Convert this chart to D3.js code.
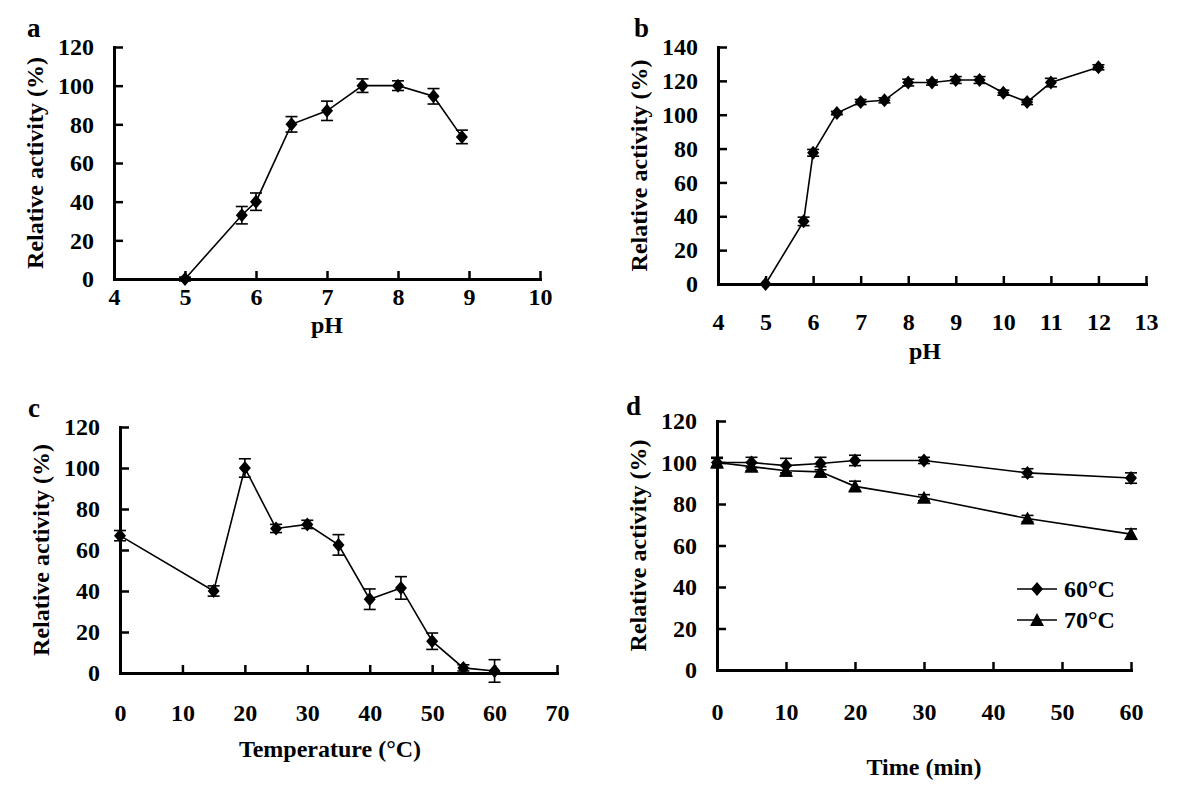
<!DOCTYPE html>
<html><head><meta charset="utf-8">
<script src="https://cdn.jsdelivr.net/npm/d3@7"></script>
<style>
body{margin:0;background:#fff}
svg text{font-family:"Liberation Serif","Times New Roman",serif;font-weight:bold;fill:#000}
</style>
</head><body><svg id="chart" width="1200" height="792"></svg>
<script>
// ---- data ----
const phA = [5, 5.8, 6, 6.5, 7, 7.5, 8, 8.5, 8.9];
const actA = [0, 33, 40, 80, 87, 100, 100, 94.5, 73.5];
const errA = [1, 4.5, 4.5, 4, 5, 3.5, 2.5, 4, 3.5];

const phB = [5, 5.8, 6, 6.5, 7, 7.5, 8, 8.5, 9, 9.5, 10, 10.5, 11, 12];
const actB = [0, 37, 77.5, 101, 107.5, 108.5, 119, 119, 120.5, 120.5, 113, 107.5, 119, 128];
const errB = [0, 2.5, 2, 1, 1.5, 1.5, 2, 1.5, 2, 2, 1.5, 1.5, 2.5, 1.5];

const tempC = [0, 15, 20, 25, 30, 35, 40, 45, 50, 55, 60];
const actC = [67, 40, 100, 70.5, 72.5, 62.5, 36, 41.5, 15.5, 2.5, 1];
const errC = [2.5, 2.5, 4.5, 2, 2, 5, 5, 5.5, 4, 1.5, 5.5];

const timeD = [0, 5, 10, 15, 20, 30, 45, 60];
const act60 = [100, 100, 98.5, 99.5, 101, 101, 95, 92.5];
const err60 = [2.5, 2.5, 3.5, 3, 2.5, 1.5, 2, 2.5];
const act70 = [100, 98, 96, 95.5, 88.5, 83, 73, 65.5];
const err70 = [2, 2, 2.5, 2.5, 2.5, 1.5, 1.5, 2.5];

const ticksXA = [4, 5, 6, 7, 8, 9, 10];
const ticksYA = [0, 20, 40, 60, 80, 100, 120];
const ticksXB = [4, 5, 6, 7, 8, 9, 10, 11, 12, 13];
const ticksYB = [0, 20, 40, 60, 80, 100, 120, 140];
const ticksXC = [0, 10, 20, 30, 40, 50, 60, 70];
const ticksYC = [0, 20, 40, 60, 80, 100, 120];
const ticksXD = [0, 10, 20, 30, 40, 50, 60];
const ticksYD = [0, 20, 40, 60, 80, 100, 120];

const legendLabels = ["60°C", "70°C"];
const yTitle = "Relative activity (%)";

// ---- drawing ----
const svg = d3.select("#chart");
const diamond = "M0,-7L6,0L0,7L-6,0Z";
const triangle = "M0,-7L7,6L-7,6Z";

function panel(cfg) {
  const x = d3.scaleLinear().domain(cfg.xd).range([cfg.px0, cfg.px1]);
  const y = d3.scaleLinear().domain(cfg.yd).range([cfg.py0, cfg.py1]);
  const g = svg.append("g");

  const gx = g.append("g").attr("transform", `translate(0,${cfg.py0})`)
    .call(d3.axisBottom(x).tickValues(cfg.xt).tickSizeInner(-8).tickSizeOuter(0).tickPadding(cfg.xpad).tickFormat(d3.format("d")));
  const gy = g.append("g").attr("transform", `translate(${cfg.px0},0)`)
    .call(d3.axisLeft(y).tickValues(cfg.yt).tickSizeInner(-9).tickSizeOuter(0).tickPadding(20).tickFormat(d3.format("d")));
  [gx, gy].forEach(a => {
    a.attr("font-family", null).attr("font-size", null);
    a.select(".domain").attr("stroke", "#000").attr("stroke-width", 3).attr("stroke-linecap", "square");
    a.selectAll(".tick line").attr("stroke", "#000").attr("stroke-width", 2.5);
    a.selectAll(".tick text").style("font-size", "24px").attr("fill", "#000");
  });

  cfg.series.forEach(s => {
    const pts = s.xs.map((v, i) => ({x: v, y: s.ys[i], e: s.es[i]}));
    g.append("path").datum(pts)
      .attr("fill", "none").attr("stroke", "#000").attr("stroke-width", 1.6)
      .attr("d", d3.line().x(d => x(d.x)).y(d => y(d.y)));
    const eb = g.append("g").attr("stroke", "#000").attr("stroke-width", 1.6);
    pts.filter(d => d.e > 0).forEach(d => {
      const cx = x(d.x), t = y(d.y + d.e), b = y(d.y - d.e);
      eb.append("line").attr("x1", cx).attr("x2", cx).attr("y1", t).attr("y2", b);
      eb.append("line").attr("x1", cx - 6).attr("x2", cx + 6).attr("y1", t).attr("y2", t);
      eb.append("line").attr("x1", cx - 6).attr("x2", cx + 6).attr("y1", b).attr("y2", b);
    });
    g.append("g").selectAll("path").data(pts).join("path")
      .attr("d", s.marker).attr("fill", "#000")
      .attr("transform", d => `translate(${x(d.x)},${y(d.y)})`);
  });

  // titles
  g.append("text").attr("transform", `translate(${cfg.px0 - 71},${(cfg.py0 + cfg.py1) / 2}) rotate(-90)`)
    .attr("text-anchor", "middle").style("font-size", "24px").text(yTitle);
  g.append("text").attr("x", cfg.xtx).attr("y", cfg.xty).attr("text-anchor", "middle")
    .style("font-size", "24px").text(cfg.xTitle);
  g.append("text").attr("x", cfg.lx).attr("y", cfg.ly).style("font-size", "27px").text(cfg.letter);
  return {x, y, g};
}

panel({px0: 114, px1: 540, py0: 279, py1: 47, xd: [4, 10], yd: [0, 120], xt: ticksXA, yt: ticksYA, xpad: 9,
  xTitle: "pH", xtx: 327, xty: 333, letter: "a", lx: 27, ly: 37,
  series: [{xs: phA, ys: actA, es: errA, marker: diamond}]});

panel({px0: 718, px1: 1146, py0: 284, py1: 47, xd: [4, 13], yd: [0, 140], xt: ticksXB, yt: ticksYB, xpad: 29,
  xTitle: "pH", xtx: 925, xty: 359, letter: "b", lx: 634, ly: 37,
  series: [{xs: phB, ys: actB, es: errB, marker: diamond}]});

panel({px0: 120, px1: 557, py0: 673, py1: 427, xd: [0, 70], yd: [0, 120], xt: ticksXC, yt: ticksYC, xpad: 31,
  xTitle: "Temperature (°C)", xtx: 330, xty: 757, letter: "c", lx: 28, ly: 417,
  series: [{xs: tempC, ys: actC, es: errC, marker: diamond}]});

const pd = panel({px0: 717, px1: 1131, py0: 670, py1: 421, xd: [0, 60], yd: [0, 120], xt: ticksXD, yt: ticksYD, xpad: 33,
  xTitle: "Time (min)", xtx: 924, xty: 775, letter: "d", lx: 626, ly: 415,
  series: [{xs: timeD, ys: act60, es: err60, marker: diamond}, {xs: timeD, ys: act70, es: err70, marker: triangle}]});

// legend
const leg = pd.g.append("g");
[diamond, triangle].forEach((m, i) => {
  const ly = 589 + i * 31;
  leg.append("line").attr("x1", 1017).attr("x2", 1057).attr("y1", ly).attr("y2", ly).attr("stroke", "#000").attr("stroke-width", 1.6);
  leg.append("path").attr("d", m).attr("transform", `translate(1037,${ly})`).attr("fill", "#000");
  leg.append("text").attr("x", 1064).attr("y", ly + 8).style("font-size", "24px").text(legendLabels[i]);
});
</script>
</body></html>
